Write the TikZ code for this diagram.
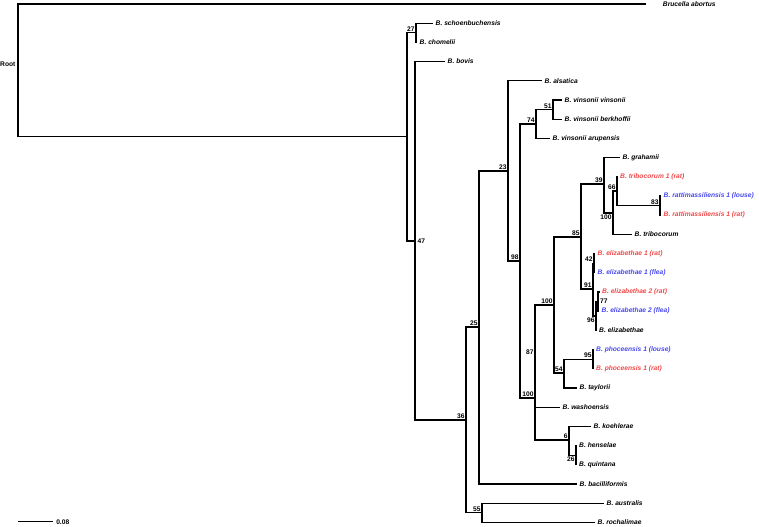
\documentclass[tikz,border=0pt]{standalone}
\usepackage{fontspec}
\setmainfont{Liberation Sans}
\usepackage{xcolor}
\usepackage{tikz}
\definecolor{ratcolor}{HTML}{F04848}
\definecolor{vectorcolor}{HTML}{4848F0}

\begin{document}
\begin{tikzpicture}[x=0.75pt, y=-0.75pt, line width=0.9pt,
  taxon/.style={anchor=west, inner sep=1.6pt, font=\fontsize{5}{6}\selectfont\bfseries\itshape},
  rattaxon/.style={taxon, text=ratcolor},
  vectortaxon/.style={taxon, text=vectorcolor},
  support/.style={anchor=south east, inner sep=0.6pt, font=\fontsize{5}{6}\selectfont\bfseries}]%
\useasboundingbox (0,0) rectangle (759,527);%
\coordinate (root) at (18, 70);%
\coordinate (nA) at (407, 136.5);%
\coordinate (n27) at (416, 32.6);%
\coordinate (n47) at (415, 241);%
\coordinate (n36) at (466, 420);%
\coordinate (n55) at (482, 512.8);%
\coordinate (n25) at (479, 327);%
\coordinate (n23) at (508, 171);%
\coordinate (n98) at (520, 261);%
\coordinate (n74) at (536, 124);%
\coordinate (n51) at (553, 109.6);%
\coordinate (n100b) at (535, 398);%
\coordinate (n87) at (535, 356);%
\coordinate (n100a) at (554, 305);%
\coordinate (n85) at (581, 237);%
\coordinate (n39) at (604, 184);%
\coordinate (n100c) at (613, 213);%
\coordinate (n66) at (617, 191);%
\coordinate (n83) at (660, 205.6);%
\coordinate (n91) at (593, 289);%
\coordinate (n42) at (594, 263.2);%
\coordinate (n96) at (596, 316);%
\coordinate (n77) at (598, 301.6);%
\coordinate (n54) at (564, 373);%
\coordinate (n95) at (593, 359.2);%
\coordinate (n6) at (569, 440);%
\coordinate (n26) at (576, 455.2);%
\coordinate (scalea) at (18, 521.7);%
\coordinate (scaleb) at (53, 521.7);%
\node[taxon, inner xsep=7pt] (abortus) at (653, 4) {Brucella abortus};%
\node[taxon] (schoen) at (433, 23.2) {B. schoenbuchensis};%
\node[taxon] (chomelii) at (417, 42.4) {B. chomelii};%
\node[taxon] (bovis) at (445, 61.6) {B. bovis};%
\node[taxon] (alsatica) at (542, 80.8) {B. alsatica};%
\node[taxon] (vinson) at (562, 100) {B. vinsonii vinsonii};%
\node[taxon] (berkh) at (562, 119.2) {B. vinsonii berkhoffii};%
\node[taxon] (arup) at (550, 138.4) {B. vinsonii arupensis};%
\node[taxon] (grahamii) at (620, 157.6) {B. grahamii};%
\node[rattaxon] (tribo1) at (617.5, 176.8) {B. tribocorum 1 (rat)};%
\node[vectortaxon] (rattlouse) at (661, 196) {B. rattimassiliensis 1 (louse)};%
\node[rattaxon] (rattrat) at (661, 215.2) {B. rattimassiliensis 1 (rat)};%
\node[taxon] (tribo) at (632, 234.4) {B. tribocorum};%
\node[rattaxon] (elizarat) at (595, 253.6) {B. elizabethae 1 (rat)};%
\node[vectortaxon] (elizaflea) at (595, 272.8) {B. elizabethae 1 (flea)};%
\node[rattaxon] (elizbrat) at (599.5, 292) {B. elizabethae 2 (rat)};%
\node[vectortaxon] (elizbflea) at (599, 311.2) {B. elizabethae 2 (flea)};%
\node[taxon] (eliz) at (596.5, 330.4) {B. elizabethae};%
\node[vectortaxon] (phoclouse) at (593.5, 349.6) {B. phoceensis 1 (louse)};%
\node[rattaxon] (phocrat) at (593.5, 368.8) {B. phoceensis 1 (rat)};%
\node[taxon] (taylorii) at (577, 388) {B. taylorii};%
\node[taxon] (washo) at (560, 407.2) {B. washoensis};%
\node[taxon] (koehl) at (591, 426.4) {B. koehlerae};%
\node[taxon] (hensel) at (576.5, 445.6) {B. henselae};%
\node[taxon] (quint) at (576.5, 464.8) {B. quintana};%
\node[taxon] (bacill) at (577, 484) {B. bacilliformis};%
\node[taxon] (austral) at (604, 503.2) {B. australis};%
\node[taxon] (rochal) at (595, 522.4) {B. rochalimae};%
\draw (root) |- ([xshift=-5.25pt]abortus.west);%
\draw (root) |- (nA);%
\draw (nA) |- (n27);%
\draw (nA) |- (n47);%
\draw (n27) |- (schoen);%
\draw (n27) |- (chomelii);%
\draw (n47) |- (bovis);%
\draw (n47) |- (n36);%
\draw (n36) |- (n25);%
\draw (n36) |- (n55);%
\draw (n55) |- (austral);%
\draw (n55) |- (rochal);%
\draw (n25) |- (n23);%
\draw (n25) |- (bacill);%
\draw (n23) |- (alsatica);%
\draw (n23) |- (n98);%
\draw (n98) |- (n74);%
\draw (n98) |- (n100b);%
\draw (n74) |- (n51);%
\draw (n74) |- (arup);%
\draw (n51) |- (vinson);%
\draw (n51) |- (berkh);%
\draw (n100b) |- (n87);%
\draw (n100b) |- (n6);%
\draw (n87) |- (n100a);%
\draw (n87) |- (washo);%
\draw (n100a) |- (n85);%
\draw (n100a) |- (n54);%
\draw (n85) |- (n39);%
\draw (n85) |- (n91);%
\draw (n39) |- (grahamii);%
\draw (n39) |- (n100c);%
\draw (n100c) |- (n66);%
\draw (n100c) |- (tribo);%
\draw (n66) |- (tribo1);%
\draw (n66) |- (n83);%
\draw (n83) |- (rattlouse);%
\draw (n83) |- (rattrat);%
\draw (n91) |- (n42);%
\draw (n91) |- (n96);%
\draw (n42) |- (elizarat);%
\draw (n42) |- (elizaflea);%
\draw (n96) |- (n77);%
\draw (n96) |- (eliz);%
\draw (n77) |- (elizbrat);%
\draw (n77) |- (elizbflea);%
\draw (n54) |- (n95);%
\draw (n54) |- (taylorii);%
\draw (n95) |- (phoclouse);%
\draw (n95) |- (phocrat);%
\draw (n6) |- (koehl);%
\draw (n6) |- (n26);%
\draw (n26) |- (hensel);%
\draw (n26) |- (quint);%
\node[support] (s27) at (n27) {27};%
\node[support, anchor=west, inner sep=1.5pt] (s47) at (n47) {47};%
\node[support] (s36) at (n36) {36};%
\node[support] (s55) at (n55) {55};%
\node[support] (s25) at (n25) {25};%
\node[support] (s23) at (n23) {23};%
\node[support] (s98) at (n98) {98};%
\node[support] (s74) at (n74) {74};%
\node[support] (s51) at (n51) {51};%
\node[support] (s100b) at (n100b) {100};%
\node[support] (s87) at (n87) {87};%
\node[support] (s100a) at (n100a) {100};%
\node[support] (s85) at (n85) {85};%
\node[support] (s39) at (n39) {39};%
\node[support, anchor=north east] (s100c) at (n100c) {100};%
\node[support] (s66) at (n66) {66};%
\node[support] (s83) at (n83) {83};%
\node[support] (s91) at (n91) {91};%
\node[support] (s42) at (n42) {42};%
\node[support, anchor=north east] (s96) at (n96) {96};%
\node[support, anchor=west, inner sep=1.2pt] (s77) at (n77) {77};%
\node[support] (s54) at (n54) {54};%
\node[support] (s95) at (n95) {95};%
\node[support] (s6) at (n6) {6};%
\node[support, anchor=north east] (s26) at (n26) {26};%
\node[anchor=east, inner sep=1.5pt, font=\fontsize{5}{6}\selectfont\bfseries] (rootlabel) at (18, 64) {Root};%
\draw (scalea) -- (scaleb);%
\node[anchor=west, inner sep=2pt, font=\fontsize{5}{6}\selectfont\bfseries] (scalelabel) at (scaleb) {0.08};%
\end{tikzpicture}
\end{document}
